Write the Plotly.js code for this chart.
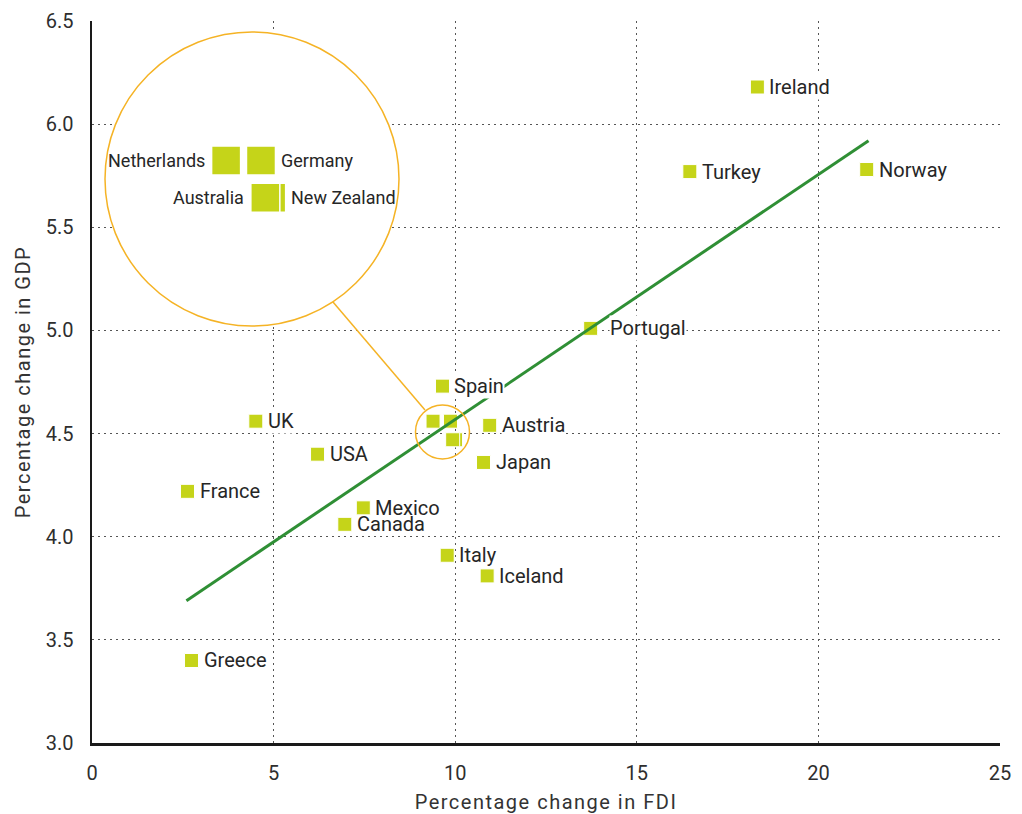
<!DOCTYPE html>
<html><head><meta charset="utf-8">
<script src="https://cdn.plot.ly/plotly-3.0.1.min.js"></script>
<style>
html,body{margin:0;padding:0;background:#fff;}
#chart{width:1022px;height:814px;}
.g-xtitle text,.g-ytitle text{letter-spacing:1.5px;}
</style></head><body><div id="chart"></div>
<script>
// ---- data ----
const countries = ['Ireland','Turkey','Norway','Portugal','Spain','Austria','Japan','UK','USA','France','Canada','Mexico','Italy','Iceland','Greece','Netherlands','Germany','New Zealand','Australia'];
const fdiChange = [18.32,16.46,21.33,13.73,9.65,10.95,10.78,4.51,6.21,2.63,6.96,7.47,9.78,10.88,2.74,9.39,9.87,10.01,9.93];
const gdpChange = [6.18,5.77,5.78,5.01,4.73,4.54,4.36,4.56,4.40,4.22,4.06,4.14,3.91,3.81,3.40,4.56,4.56,4.47,4.47];
const insetCountries = ['Netherlands','Germany','New Zealand','Australia'];
const insetLeftLabels = ['Netherlands','Australia'];
const trendFdi = [2.60, 21.38];
const trendGdp = [3.69, 5.92];
const xTickVals = [0,5,10,15,20,25];
const yTickVals = [3.0,3.5,4.0,4.5,5.0,5.5,6.0,6.5];
const lensCenter = [9.65, 4.508];

// ---- styles ----
const markerColor = '#c5d419';
const textColor = '#262626';
const orange = '#f5b325';
const FONT = 'Roboto, Arial, sans-serif';
const W = 1022, H = 814;
const M = {l:92, r:22, t:21, b:71};
const plotW = W - M.l - M.r, plotH = H - M.t - M.b;
const xRange = [0,25], yRange = [3.0,6.5];
const pxX = plotW/(xRange[1]-xRange[0]), pxY = plotH/(yRange[1]-yRange[0]);
const zoom = 2, lensR = 147, lensPx = [245,182];
const lensBox = {x0:93, x1:404, y0:24, y1:336}; // pixel box of the magnifier sub-plot
const labelShift = {Portugal: 19};
const labelsWithoutBg = ['Mexico','Canada'];

const insetIdx = countries.map((c,i)=>i).filter(i=>insetCountries.includes(countries[i]));
const mainLabelIdx = countries.map((c,i)=>i).filter(i=>!insetCountries.includes(countries[i]));

const traces = [
  {type:'scatter', mode:'markers', x: fdiChange, y: gdpChange, text: countries,
   marker:{symbol:'square', size:14, color:markerColor, line:{width:1, color:'#ffffff'}},
   hoverinfo:'text', cliponaxis:false},
  {type:'scatter', mode:'lines', x: trendFdi, y: trendGdp,
   line:{color:'#2f8f35', width:3}, hoverinfo:'skip'},
  {type:'scatter', mode:'markers', xaxis:'x2', yaxis:'y2',
   x: insetIdx.map(i=>fdiChange[i]), y: insetIdx.map(i=>gdpChange[i]),
   marker:{symbol:'square', size:29, color:markerColor, line:{width:1.5, color:'#ffffff'}},
   hoverinfo:'skip', cliponaxis:false}
];

const annotations = [];
mainLabelIdx.forEach(i=>{
  const noBg = labelsWithoutBg.includes(countries[i]);
  annotations.push({x:fdiChange[i], y:gdpChange[i], xref:'x', yref:'y', text:countries[i],
    showarrow:false, xanchor:'left', yanchor:'middle', xshift:(labelShift[countries[i]]||12)-1,
    bgcolor:noBg?'rgba(0,0,0,0)':'#ffffff', borderpad:0, font:{family:FONT, size:20, color:textColor}});
});
insetIdx.forEach(i=>{
  const left = insetLeftLabels.includes(countries[i]);
  annotations.push({x:fdiChange[i], y:gdpChange[i], xref:'x2', yref:'y2', text:countries[i],
    showarrow:false, xanchor:left?'right':'left', yanchor:'middle', xshift:left?-19:18,
    font:{family:FONT, size:18, color:textColor}});
});

const sx = zoom*pxX, sy = zoom*pxY;
const shapes = [
  {type:'circle', xref:'x2', yref:'y2', layer:'below', xsizemode:'pixel', ysizemode:'pixel',
   xanchor:lensCenter[0], yanchor:lensCenter[1], x0:-lensR+7, x1:lensR+7, y0:-lensR+3, y1:lensR+3,
   fillcolor:'#ffffff', line:{color:orange, width:1.5}},
  {type:'circle', xref:'x', yref:'y', xsizemode:'pixel', ysizemode:'pixel',
   xanchor:lensCenter[0], yanchor:lensCenter[1], x0:-27, x1:27, y0:-27, y1:27,
   fillcolor:'rgba(0,0,0,0)', line:{color:orange, width:1.5}},
  {type:'line', xref:'x', yref:'y', xsizemode:'pixel', ysizemode:'pixel',
   xanchor:lensCenter[0], yanchor:lensCenter[1], x0:-17.5, y0:22, x1:-109.5, y1:130,
   line:{color:orange, width:1.5}}
];

const gridStyle = {showgrid:true, gridcolor:'#555555', gridwidth:1, griddash:'2px,4px'};
const layout = {
  width:W, height:H, margin:M, paper_bgcolor:'#ffffff', plot_bgcolor:'rgba(0,0,0,0)', showlegend:false,
  font:{family:FONT, size:20, color:textColor},
  xaxis:Object.assign({range:xRange, tickvals:xTickVals, ticktext:xTickVals.map(String),
    showline:true, linecolor:'#1a1a1a', linewidth:2.5, zeroline:false, ticks:'', ticklabelstandoff:10,
    tickfont:{family:FONT, size:20, color:'#2e2e2e'},
    title:{text:'Percentage change in FDI', font:{family:FONT, size:20, color:'#333333'}, standoff:14},
    fixedrange:true}, gridStyle),
  yaxis:Object.assign({range:yRange, tickvals:yTickVals, ticktext:yTickVals.map(v=>v.toFixed(1)),
    showline:true, linecolor:'#1a1a1a', linewidth:2.5, zeroline:false, ticks:'', ticklabelstandoff:12,
    tickfont:{family:FONT, size:20, color:'#2e2e2e'},
    title:{text:'Percentage change in GDP', font:{family:FONT, size:20, color:'#333333'}, standoff:10},
    fixedrange:true}, gridStyle),
  xaxis2:{domain:[(lensBox.x0-M.l)/plotW, (lensBox.x1-M.l)/plotW],
    range:[lensCenter[0]+(lensBox.x0-lensPx[0])/sx, lensCenter[0]+(lensBox.x1-lensPx[0])/sx],
    visible:false, showgrid:false, zeroline:false, anchor:'y2', fixedrange:true},
  yaxis2:{domain:[(H-M.b-lensBox.y1)/plotH, (H-M.b-lensBox.y0)/plotH],
    range:[lensCenter[1]-(lensBox.y1-lensPx[1])/sy, lensCenter[1]+(lensPx[1]-lensBox.y0)/sy],
    visible:false, showgrid:false, zeroline:false, anchor:'x2', fixedrange:true},
  annotations: annotations,
  shapes: shapes
};
Plotly.newPlot('chart', traces, layout, {displayModeBar:false, staticPlot:true});
</script></body></html>
